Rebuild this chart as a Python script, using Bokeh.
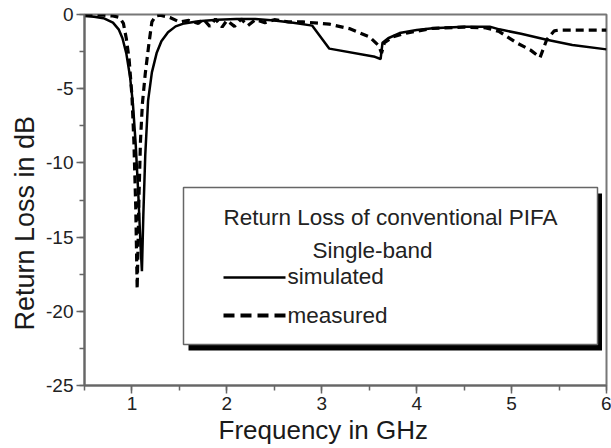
from bokeh.plotting import figure
from bokeh.models import SingleIntervalTicker, Label, Title
from bokeh.embed import file_html
from bokeh.resources import INLINE

# Return loss of the conventional single-band PIFA
sim_freq = [0.5, 0.6, 0.7, 0.8, 0.86, 0.9, 0.94, 0.98, 1.01, 1.04, 1.07, 1.09,
            1.105, 1.12, 1.14, 1.17, 1.21, 1.26, 1.31, 1.38, 1.46, 1.55, 1.7,
            1.9, 2.1, 2.3, 2.5, 2.7, 2.9, 3.08, 3.56, 3.62, 3.64, 3.7, 3.82,
            4.0, 4.17, 4.5, 4.77, 4.87, 5.1, 5.37, 5.64, 6.0]
sim_db = [-0.10, -0.15, -0.25, -0.55, -1.0, -1.6, -2.6, -4.2, -6.0, -8.8, -12.5,
          -15.5, -17.3, -13.5, -9.5, -5.8, -3.9, -2.6, -1.8, -1.2, -0.8, -0.6,
          -0.45, -0.35, -0.3, -0.3, -0.4, -0.55, -0.75, -2.3, -2.85, -3.0, -1.9,
          -1.6, -1.25, -1.05, -0.93, -0.82, -0.82, -1.0, -1.3, -1.7, -2.05, -2.35]

meas_freq = [0.5, 0.6, 0.7, 0.8, 0.87, 0.91, 0.94, 0.97, 1.0, 1.02, 1.04, 1.055,
             1.075, 1.09, 1.11, 1.14, 1.18, 1.21, 1.25, 1.3, 1.4, 1.5, 1.6, 1.7,
             1.75, 1.82, 1.88, 1.95, 2.0, 2.08, 2.15, 2.22, 2.3, 2.4, 2.5, 2.65,
             2.8, 3.08, 3.29, 3.5, 3.6, 3.63, 3.66, 3.75, 3.89, 4.17, 4.5, 4.73,
             4.87, 5.05, 5.2, 5.3, 5.37, 5.45, 5.5, 6.0]
meas_db = [0.0, -0.05, -0.05, -0.1, -0.2, -0.6, -1.6, -3.0, -5.5, -8.5, -13.0,
           -18.5, -12.0, -8.5, -6.0, -4.0, -1.9, -0.5, -0.1, -0.05, -0.2, -0.5,
           -0.4, -0.6, -0.3, -0.8, -0.3, -0.85, -0.4, -0.8, -0.3, -0.75, -0.35,
           -0.55, -0.35, -0.5, -0.5, -0.65, -0.95, -1.5, -2.1, -2.6, -1.9, -1.5,
           -1.25, -0.93, -0.85, -0.9, -1.15, -1.9, -2.4, -2.9, -1.7, -1.1, -1.05,
           -1.05]

x_ticks = [1, 2, 3, 4, 5, 6]
y_ticks = [0, -5, -10, -15, -20, -25]
y_tick_labels = ["0", "-5", "-10", "-15", "-20", "-25"]

x_title = "Frequency in GHz"
y_title = "Return Loss in dB"
legend_title = "Return Loss of conventional PIFA"
legend_subtitle = "Single-band"
series_names = ["simulated", "measured"]

FONT = "Liberation Sans"
X0, X1 = 0.5, 6.0
Y0, Y1 = -25.0, 0.0

W, H = 611, 448
BL, BR, BT, BB = 84, 5, 14, 63

p = figure(width=W, height=H, x_range=(X0, X1), y_range=(Y0, Y1),
           output_backend="svg", toolbar_location=None,
           min_border_left=BL, min_border_right=BR,
           min_border_top=BT, min_border_bottom=BB)
p.background_fill_color = "white"
p.border_fill_color = "white"
p.xgrid.visible = False
p.ygrid.visible = False
p.outline_line_color = "#777777"
p.outline_line_width = 2

# frame geometry, used to place the legend box in pixel terms
FL, FR = BL, W - BR
FT, FB = BT, H - BB


def px(xp, yp):
    """Convert canvas pixels to data coordinates."""
    fx = X0 + (xp - FL) / (FR - FL) * (X1 - X0)
    fy = Y1 - (yp - FT) / (FB - FT) * (Y1 - Y0)
    return fx, fy


# curves
p.line(sim_freq, sim_db, line_color="black", line_width=2.5)
p.line(meas_freq, meas_db, line_color="black", line_width=3.2,
       line_dash="8 5")

# axes
for ax in (p.xaxis[0], p.yaxis[0]):
    ax.axis_line_color = "#666666"
    ax.axis_line_width = 2
    ax.major_tick_line_color = "#666666"
    ax.minor_tick_line_color = "#666666"
    ax.major_tick_line_width = 1.5
    ax.minor_tick_line_width = 1.5
    ax.major_tick_in = 0
    ax.major_tick_out = 8
    ax.minor_tick_in = 0
    ax.minor_tick_out = 5
    ax.major_label_text_font = FONT
    ax.major_label_text_font_size = "19px"
    ax.major_label_text_color = "#222222"

p.xaxis.ticker = SingleIntervalTicker(interval=1, num_minor_ticks=2)
p.yaxis.ticker = SingleIntervalTicker(interval=5, num_minor_ticks=2)
p.yaxis.major_label_overrides = {t: s for t, s in zip(y_ticks, y_tick_labels)}
p.xaxis.major_label_overrides = {t: str(t) for t in x_ticks}
p.xaxis.major_label_standoff = 3
p.yaxis.major_label_standoff = 3

# axis titles, set slightly off-centre
p.add_layout(Title(text=x_title, align="left", offset=134,
                   text_font=FONT, text_font_size="26px",
                   text_font_style="normal", text_color="#1a1a1a",
                   standoff=0), "below")
p.add_layout(Title(text=y_title, align="left", offset=55,
                   text_font=FONT, text_font_size="27px",
                   text_font_style="normal", text_color="#1a1a1a",
                   standoff=8), "left")

# legend: drop shadow, framed box, samples and text
sx0, sy0 = px(188, 193)
sx1, sy1 = px(601.5, 350)
p.quad(left=[sx0], right=[sx1], top=[sy0], bottom=[sy1],
       fill_color="black", line_color=None)
bx0, by0 = px(183, 187)
bx1, by1 = px(597, 344)
p.quad(left=[bx0], right=[bx1], top=[by0], bottom=[by1],
       fill_color="white", line_color="#666666", line_width=1.5)

lx0, ly_sim = px(223, 277)
lx1, ly_meas = px(285, 315)
p.line([lx0, lx1], [ly_sim, ly_sim], line_color="black", line_width=2.5)
p.line([lx0, lx1], [ly_meas, ly_meas], line_color="black", line_width=4,
       line_dash="11 6")

text_rows = [
    (legend_title, 223, 217),
    (legend_subtitle, 312, 250),
    (series_names[0], 287, 276),
    (series_names[1], 287, 315),
]
for txt, xp_, yp_ in text_rows:
    tx, ty = px(xp_, yp_)
    p.add_layout(Label(x=tx, y=ty, text=txt, text_font=FONT,
                       text_font_size="22.5px", text_color="#222222",
                       text_baseline="alphabetic", text_align="left"))

open("out.html", "w").write(file_html(p, INLINE))
